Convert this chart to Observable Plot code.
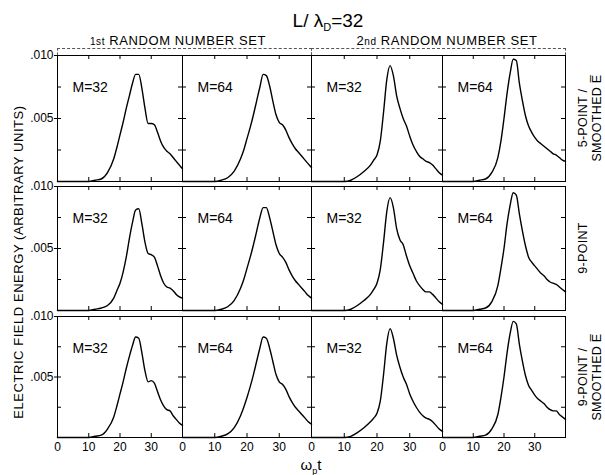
<!DOCTYPE html>
<html><head><meta charset="utf-8">
<script src="https://cdn.jsdelivr.net/npm/d3@7"></script>
<script src="https://cdn.jsdelivr.net/npm/@observablehq/plot@0.6"></script>
<style>
body{margin:0;background:#fff;}
#chart{position:relative;width:605px;height:475px;overflow:hidden;font-family:"Liberation Sans",Arial,sans-serif;color:#000;background:#fff;}
.abs{position:absolute;white-space:nowrap;line-height:1;}
.rot{transform:translate(-50%,-50%) rotate(-90deg);text-align:center;}
.plot-panel{position:absolute;}
.bracket{position:absolute;border-top:1px dashed #555;border-left:1px dashed #555;border-right:1px dashed #555;box-sizing:border-box;}
</style></head><body><div id="chart"></div>
<script>
// ---- data (omega_p t grid and electric field energy per panel) ----
const t = [0,10,12,14,16,18,19,20,21,22,23,24,25,26,27,28,29,30,31,32,33,34,35,36,37,38,39,40];

const r1c1 = [0,0,0.0001,0.0002,0.0007,0.0018,0.0027,0.0037,0.0047,0.0058,0.0068,0.0078,0.0085,0.0085,0.0074,0.0058,0.0046,0.0046,0.0045,0.0039,0.0032,0.0027,0.0024,0.0022,0.0019,0.0016,0.0013,0.0010];
const r1c2 = [0,0,0.0001,0.0003,0.0008,0.0018,0.0025,0.0034,0.0043,0.0053,0.0064,0.0075,0.0085,0.0084,0.0076,0.0064,0.0053,0.0047,0.0045,0.0041,0.0035,0.0030,0.0026,0.0023,0.0020,0.0017,0.0014,0.0011];
const r1c3 = [0,0,0.0001,0.0004,0.0008,0.0013,0.0017,0.0021,0.0032,0.0055,0.0081,0.0092,0.0084,0.0068,0.0058,0.0050,0.0044,0.0036,0.0029,0.0024,0.0020,0.0018,0.0016,0.0015,0.0013,0.0010,0.0007,0.0005];
const r1c4 = [0,0,0.0001,0.0002,0.0007,0.0019,0.0032,0.0050,0.0070,0.0086,0.0097,0.0096,0.0078,0.0064,0.0052,0.0044,0.0039,0.0035,0.0032,0.0030,0.0028,0.0026,0.0024,0.0022,0.0021,0.0019,0.0017,0.0016];

const r2c1 = [0,0,0.0001,0.0002,0.0004,0.0010,0.0016,0.0022,0.0031,0.0043,0.0058,0.0071,0.0081,0.0082,0.0070,0.0055,0.0046,0.0045,0.0043,0.0036,0.0028,0.0022,0.0019,0.0018,0.0016,0.0013,0.0011,0.0010];
const r2c2 = [0,0,0.0001,0.0003,0.0008,0.0018,0.0025,0.0034,0.0043,0.0053,0.0064,0.0075,0.0083,0.0083,0.0075,0.0064,0.0053,0.0046,0.0043,0.0039,0.0033,0.0028,0.0024,0.0021,0.0018,0.0015,0.0012,0.0010];
const r2c3 = [0,0,0.0001,0.0004,0.0008,0.0013,0.0017,0.0022,0.0033,0.0055,0.0080,0.0091,0.0083,0.0066,0.0057,0.0053,0.0044,0.0036,0.0030,0.0024,0.0020,0.0017,0.0015,0.0015,0.0013,0.0010,0.0007,0.0005];
const r2c4 = [0,0,0.0001,0.0002,0.0007,0.0020,0.0034,0.0050,0.0070,0.0085,0.0095,0.0093,0.0078,0.0064,0.0052,0.0043,0.0039,0.0036,0.0033,0.0030,0.0028,0.0025,0.0023,0.0022,0.0021,0.0019,0.0017,0.0015];

const r3c1 = [0,0,0.0001,0.0002,0.0007,0.0017,0.0026,0.0036,0.0046,0.0057,0.0067,0.0076,0.0083,0.0082,0.0070,0.0055,0.0046,0.0047,0.0045,0.0038,0.0031,0.0026,0.0023,0.0022,0.0018,0.0015,0.0012,0.0010];
const r3c2 = [0,0,0.0001,0.0003,0.0008,0.0018,0.0025,0.0033,0.0042,0.0052,0.0063,0.0074,0.0083,0.0082,0.0074,0.0063,0.0052,0.0046,0.0044,0.0040,0.0034,0.0029,0.0025,0.0022,0.0019,0.0016,0.0013,0.0011];
const r3c3 = [0,0,0.0001,0.0004,0.0008,0.0013,0.0016,0.0020,0.0030,0.0052,0.0078,0.0090,0.0082,0.0068,0.0058,0.0050,0.0044,0.0036,0.0030,0.0025,0.0021,0.0018,0.0016,0.0015,0.0013,0.0010,0.0007,0.0005];
const r3c4 = [0,0,0.0001,0.0002,0.0007,0.0019,0.0033,0.0050,0.0070,0.0086,0.0096,0.0094,0.0077,0.0063,0.0051,0.0043,0.0039,0.0035,0.0032,0.0030,0.0028,0.0025,0.0023,0.0022,0.0022,0.0019,0.0017,0.0015];

const mLabels = ["M=32","M=64","M=32","M=64"];
const setLabels = ["1st RANDOM NUMBER SET","2nd RANDOM NUMBER SET"];
const rowLabels = [["5-POINT /","SMOOTHED E\u0305"],["9-POINT"],["9-POINT /","SMOOTHED E\u0305"]];
const yTickVals = [0.005, 0.010];
const yTickText = [".005", ".010"];
const yMinor = [0.0025, 0.005, 0.0075];
const xTickVals = [0, 10, 20, 30];
const xTickText = ["0", "10", "20", "30"];
const xMinor = [10, 20, 30];
const yTitle = "ELECTRIC FIELD ENERGY (ARBITRARY UNITS)";

// ---- layout ----
const series = [[r1c1,r1c2,r1c3,r1c4],[r2c1,r2c2,r2c3,r2c4],[r3c1,r3c2,r3c3,r3c4]];
const colX = [57,182,311,442,565];
const rowTop = [55,186,316];
const rowBot = [181,310,437];
const chart = document.getElementById("chart");

function panel(r, c) {
  const fw = colX[c+1] - colX[c], fh = rowBot[r] - rowTop[r];
  const ml = c === 0 ? 42 : 0, mb = r === 2 ? 22 : 0;
  const data = t.map((x, i) => ({x, y: series[r][c][i]}));
  const marks = [
    Plot.tickY(yMinor, {y: d => d, insetRight: fw - 4, strokeWidth: 1}),
    Plot.tickY(yMinor, {y: d => d, insetLeft: fw - 4, strokeWidth: 1}),
    Plot.tickX(xMinor, {x: d => d, insetBottom: fh - 4, strokeWidth: 1}),
    Plot.tickX(xMinor, {x: d => d, insetTop: fh - 4, strokeWidth: 1}),
    Plot.line(data, {x: "x", y: "y", curve: "monotone-x", stroke: "#000", strokeWidth: 1.4}),
    Plot.text([mLabels[c]], {frameAnchor: "top-left", dx: 15, dy: 27, fontSize: 14, textAnchor: "start", fill: "#000"}),
    Plot.frame({stroke: "#000", strokeWidth: 1})
  ];
  if (c === 0) marks.push(Plot.axisY(yTickVals, {anchor: "left", label: null, tickSize: 3, tickPadding: 1, fontSize: 12,
    tickFormat: d => yTickText[yTickVals.indexOf(d)]}));
  if (r === 2) marks.push(Plot.axisX(xTickVals, {anchor: "bottom", label: null, tickSize: 0, tickPadding: 5, fontSize: 12,
    tickFormat: d => xTickText[xTickVals.indexOf(d)]}));
  const svg = Plot.plot({
    width: fw + ml, height: fh + mb,
    marginLeft: ml, marginRight: 0, marginTop: 0, marginBottom: mb,
    x: {domain: [0, 40], axis: null},
    y: {domain: [0, 0.010], axis: null},
    style: {fontFamily: "'Liberation Sans', Arial, sans-serif", background: "transparent", color: "#000", overflow: "visible"},
    marks
  });
  svg.classList.add("plot-panel");
  svg.style.left = (colX[c] - ml) + "px";
  svg.style.top = rowTop[r] + "px";
  chart.appendChild(svg);
}
for (let r = 0; r < 3; r++) for (let c = 0; c < 4; c++) panel(r, c);

function addText(html, x, y, css, cls) {
  const d = document.createElement("div");
  d.className = "abs " + (cls || "");
  d.innerHTML = html;
  Object.assign(d.style, {left: x + "px", top: y + "px"}, css || {});
  chart.appendChild(d);
  return d;
}
// brackets over each random-number set
[[0, 2], [2, 4]].forEach(([a, b]) => {
  const d = document.createElement("div");
  d.className = "bracket";
  Object.assign(d.style, {left: colX[a] + "px", top: "48px", width: (colX[b] - colX[a] + 1) + "px", height: (rowTop[0] - 48) + "px"});
  chart.appendChild(d);
});
// title
addText("L/ &lambda;<sub style='font-size:11px'>D</sub>=32", 328, 22, {fontSize: "19px", transform: "translate(-50%,-50%)"});
// set labels
addText(setLabels[0].replace("1st", "<span style='font-size:10px'>1st</span>"), 178, 40, {fontSize: "13px", letterSpacing: "0.6px", transform: "translate(-50%,-50%)"});
addText(setLabels[1].replace("2nd", "2<span style='font-size:10px'>nd</span>"), 447, 40, {fontSize: "13px", letterSpacing: "0.6px", transform: "translate(-50%,-50%)"});
// y title
addText(yTitle, 18, 262, {fontSize: "13px", letterSpacing: "0.55px"}, "rot");
// x title
addText("&omega;<sub style='font-size:9px'>p</sub>t", 311, 466, {fontSize: "15px", transform: "translate(-50%,-50%)"});
// row labels on the right
rowLabels.forEach((lines, r) => {
  const cy = (rowTop[r] + rowBot[r]) / 2;
  if (lines.length === 2) {
    addText(lines[0], 583, cy, {fontSize: "12.5px", letterSpacing: "0.3px"}, "rot");
    addText(lines[1], 597, cy, {fontSize: "12.5px", letterSpacing: "0.3px"}, "rot");
  } else {
    addText(lines[0], 583, cy, {fontSize: "12.5px", letterSpacing: "0.3px"}, "rot");
  }
});
</script></body></html>
